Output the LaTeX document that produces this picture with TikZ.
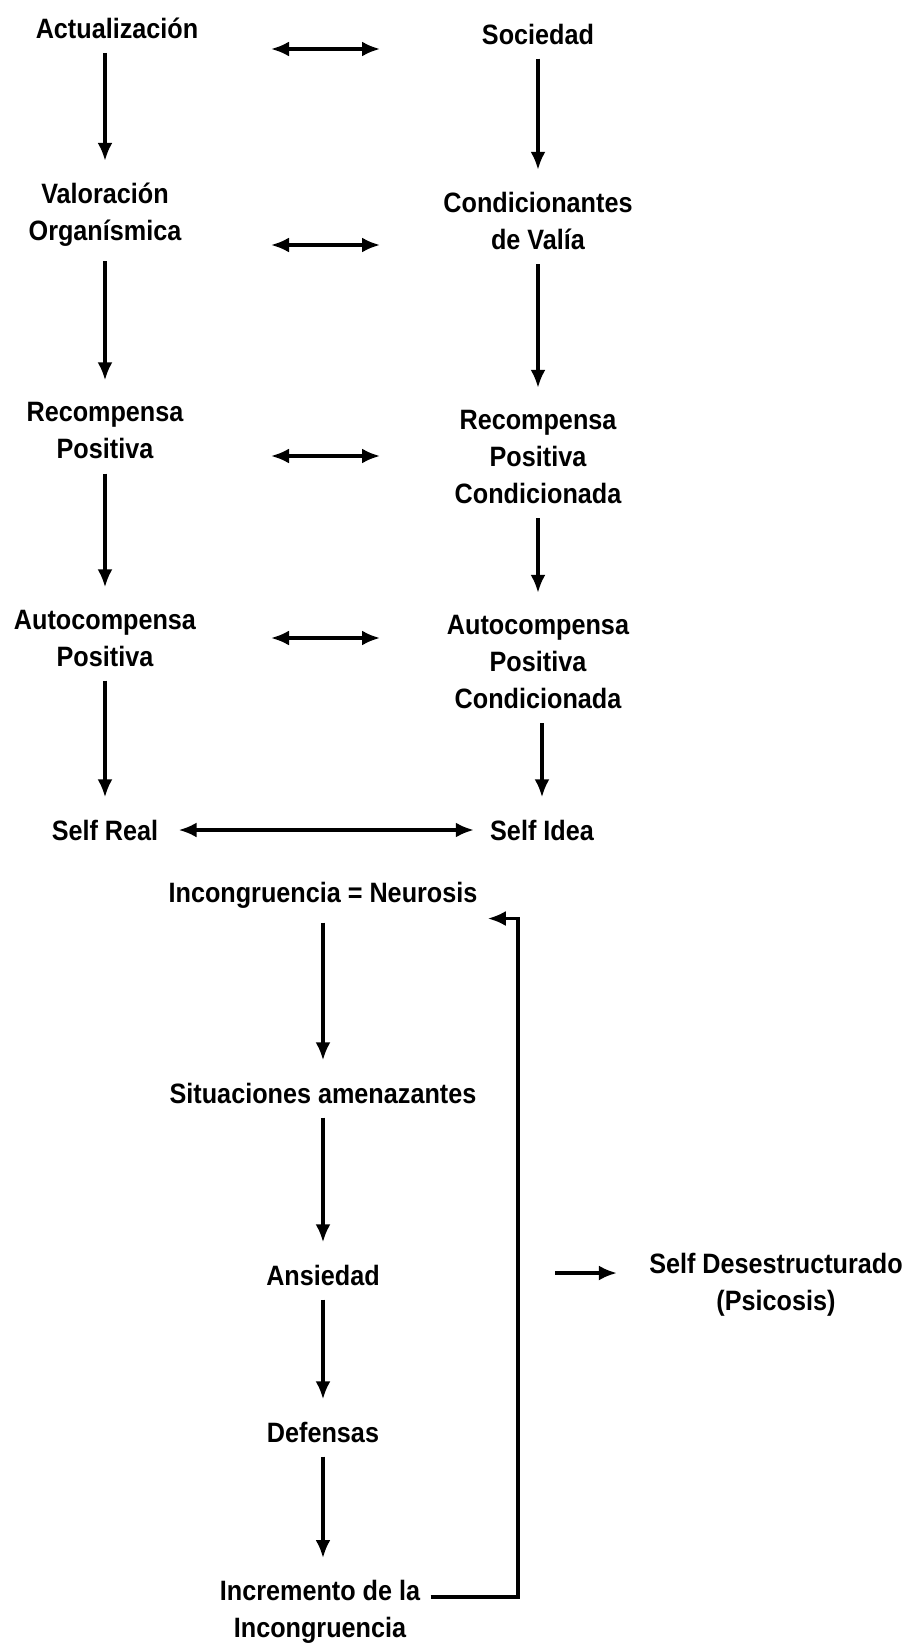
\documentclass[tikz,border=0pt]{standalone}
\usepackage{fontspec}
\setmainfont{Liberation Sans}[FakeStretch=0.9]
\usetikzlibrary{arrows.meta}
\tikzset{
  box/.style = {font = \bfseries\fontsize{14}{18.5}\selectfont, align = center, inner sep = 5pt},
  flow/.style = {-{Latex[length = 9pt, width = 7.5pt]}, line width = 1.6pt, shorten > = 6pt, shorten < = 2pt},
  both/.style = {{Latex[length = 9pt, width = 7.5pt]}-{Latex[length = 9pt, width = 7.5pt]}, line width = 1.6pt}
}
\begin{document}
\begin{tikzpicture}[x = 0.5pt, y = -0.5pt]
  \useasboundingbox (0, 0) rectangle (912, 1648);
  \node [box] (act) at (117, 28) {Actualización};
  \node [box] (val) at (105, 215) {Valoración\\Organísmica};
  \node [box] (recp) at (105, 431) {Recompensa\\Positiva};
  \node [box] (autp) at (105, 638) {Autocompensa\\Positiva};
  \node [box] (sreal) at (105, 830) {Self Real};
  \node [box] (soc) at (538, 34) {Sociedad};
  \node [box] (cond) at (538, 221) {Condicionantes\\de Valía};
  \node [box] (recc) at (538, 457) {Recompensa\\Positiva\\Condicionada};
  \node [box] (autc) at (538, 662) {Autocompensa\\Positiva\\Condicionada};
  \node [box] (sidea) at (542, 830) {Self Idea};
  \node [box] (incong) at (323, 895) {Incongruencia = Neurosis};
  \node [box] (sit) at (323, 1093) {Situaciones amenazantes};
  \node [box] (ans) at (323, 1275) {Ansiedad};
  \node [box] (def) at (323, 1432) {Defensas};
  \node [box] (incr) at (320, 1612) {Incremento de la\\Incongruencia};
  \node [box] (psic) at (776, 1285) {Self Desestructurado\\(Psicosis)};
  \draw [flow] (act.south -| val.north) -- (val.north);
  \draw [flow] (val) -- (recp);
  \draw [flow] (recp) -- (autp);
  \draw [flow] (autp) -- (sreal);
  \draw [flow] (soc) -- (cond);
  \draw [flow] (cond) -- (recc);
  \draw [flow] (recc) -- (autc);
  \draw [flow] (autc.south -| sidea.north) -- (sidea.north);
  \foreach \y [count = \i] in {49, 245, 456, 638} {
    \coordinate (l\i) at (271, \y);
    \coordinate (r\i) at (380, \y);
    \draw [both] (l\i) -- (r\i);
  }
  \draw [both, shorten < = 5pt, shorten > = 3pt] (sreal) -- (sidea);
  \draw [flow] (incong) -- (sit);
  \draw [flow] (sit) -- (ans);
  \draw [flow] (ans) -- (def);
  \draw [flow] (def.south) -- (incr.north -| def.south);
  \coordinate (fb) at (518, 1597);
  \draw [flow, shorten > = 0pt, shorten < = 0pt] (incr.east |- fb) -- (fb) |- (incong.south east);
  \coordinate (ps) at (555, 1273);
  \draw [flow, shorten < = 0pt, shorten > = 11pt] (ps) -- (psic.west |- ps);
\end{tikzpicture}
\end{document}
